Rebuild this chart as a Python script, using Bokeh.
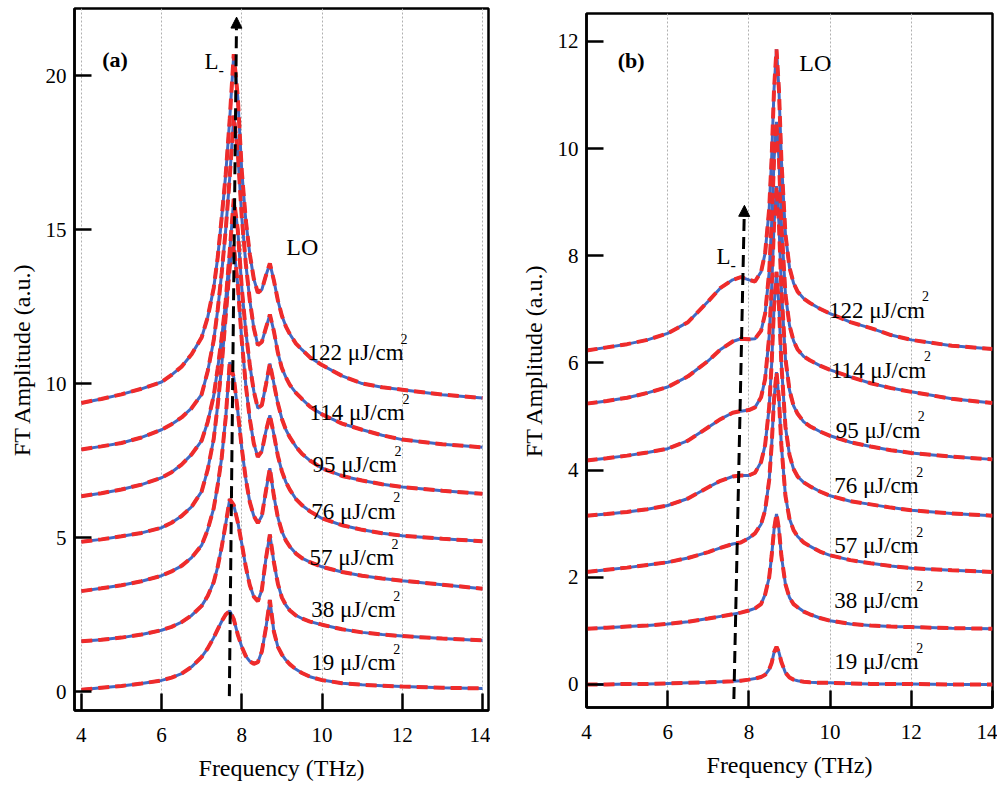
from bokeh.plotting import figure
from bokeh.layouts import row, column, Spacer
from bokeh.models import FixedTicker, Arrow, NormalHead, ColumnDataSource, Range1d
from bokeh.embed import file_html
from bokeh.resources import INLINE
from bokeh.core.properties import value

# ---------------- data: panel (a) ----------------
freq_a = [4.0, 4.5, 5.0, 5.5, 6.0, 6.25, 6.5, 6.75, 7.0, 7.15, 7.3, 7.4, 7.5, 7.6, 7.7, 7.8,
          7.9, 8.0, 8.1, 8.2, 8.3, 8.4, 8.5, 8.6, 8.7, 8.8, 8.9, 9.0, 9.1, 9.2, 9.35, 9.5,
          9.7, 10.0, 10.5, 11.0, 11.5, 12.0, 13.0, 14.0]
a_19 = [0.06, 0.12, 0.18, 0.26, 0.36, 0.45, 0.58, 0.8, 1.12, 1.4, 1.75, 2.02, 2.28, 2.5, 2.62, 2.35,
        1.85, 1.45, 1.15, 0.98, 0.9, 0.95, 1.3, 2.05, 2.97, 1.95, 1.45, 1.2, 1.02, 0.88, 0.72, 0.6,
        0.48, 0.37, 0.27, 0.22, 0.19, 0.16, 0.12, 0.1]
a_38 = [1.63, 1.68, 1.75, 1.85, 1.99, 2.1, 2.25, 2.47, 2.78, 3.1, 3.55, 4.05, 4.7, 5.45, 6.25, 6.05,
        5.5, 4.8, 4.05, 3.45, 3.08, 2.93, 3.3, 4.3, 5.1, 4.2, 3.5, 3.05, 2.8, 2.63, 2.47, 2.37,
        2.27, 2.17, 2.02, 1.92, 1.85, 1.8, 1.72, 1.66]
a_57 = [3.26, 3.35, 3.45, 3.58, 3.76, 3.9, 4.08, 4.35, 4.75, 5.25, 5.95, 6.7, 7.6, 8.9, 10.7, 10.2,
        9.1, 7.9, 6.9, 6.15, 5.7, 5.47, 5.7, 6.5, 7.25, 6.35, 5.65, 5.2, 4.9, 4.7, 4.48, 4.33,
        4.2, 4.05, 3.88, 3.76, 3.67, 3.6, 3.47, 3.34]
a_76 = [4.86, 4.94, 5.04, 5.15, 5.32, 5.48, 5.7, 6.0, 6.5, 7.2, 8.2, 9.3, 10.6, 12.2, 13.8, 14.5,
        13.2, 11.4, 9.95, 8.85, 8.05, 7.62, 7.8, 8.45, 8.97, 8.35, 7.65, 7.15, 6.8, 6.55, 6.25, 6.05,
        5.85, 5.62, 5.4, 5.25, 5.14, 5.06, 4.96, 4.88]
a_95 = [6.34, 6.44, 6.56, 6.72, 6.94, 7.12, 7.37, 7.7, 8.15, 8.75, 9.6, 10.5, 11.5, 12.7, 14.3, 16.0,
        15.0, 13.1, 11.7, 10.6, 9.75, 9.2, 9.3, 9.95, 10.65, 10.0, 9.35, 8.85, 8.5, 8.25, 7.95, 7.72,
        7.5, 7.25, 7.0, 6.85, 6.73, 6.64, 6.52, 6.42]
a_114 = [7.86, 7.96, 8.07, 8.25, 8.5, 8.68, 8.9, 9.2, 9.65, 10.4, 11.4, 12.4, 13.6, 15.0, 16.7, 18.7,
         17.5, 15.4, 13.9, 12.7, 11.8, 11.25, 11.35, 11.8, 12.24, 11.7, 11.0, 10.5, 10.2, 9.95, 9.7, 9.5,
         9.25, 9.0, 8.7, 8.5, 8.32, 8.18, 8.03, 7.93]
a_122 = [9.37, 9.5, 9.65, 9.83, 10.05, 10.28, 10.55, 10.95, 11.5, 12.15, 13.1, 14.1, 15.4, 16.8, 18.6, 20.7,
         19.3, 16.9, 15.3, 14.2, 13.4, 12.95, 13.05, 13.5, 13.9, 13.35, 12.7, 12.2, 11.85, 11.6, 11.3, 11.1,
         10.85, 10.6, 10.25, 10.0, 9.88, 9.8, 9.64, 9.53]

# ---------------- data: panel (b) ----------------
freq_b = [4.0, 4.5, 5.0, 5.5, 6.0, 6.5, 7.0, 7.3, 7.6, 7.8, 8.0, 8.15, 8.3, 8.4, 8.5, 8.56, 8.62,
          8.68, 8.74, 8.8, 8.9, 9.0, 9.1, 9.2, 9.35, 9.5, 9.75, 10.0, 10.5, 11.0, 11.5, 12.0, 13.0, 14.0]
b_19 = [0.0, 0.0, 0.01, 0.01, 0.02, 0.03, 0.04, 0.05, 0.06, 0.07, 0.09, 0.11, 0.14, 0.18, 0.28, 0.4, 0.6,
        0.70, 0.6, 0.42, 0.22, 0.13, 0.09, 0.07, 0.05, 0.04, 0.03, 0.03, 0.02, 0.01, 0.01, 0.01, 0.0, 0.0]
b_38 = [1.04, 1.06, 1.08, 1.1, 1.13, 1.17, 1.23, 1.27, 1.31, 1.34, 1.38, 1.42, 1.5, 1.68, 2.0, 2.4, 2.9,
        3.18, 2.9, 2.4, 1.87, 1.62, 1.5, 1.44, 1.36, 1.31, 1.24, 1.19, 1.13, 1.1, 1.08, 1.07, 1.05, 1.04]
b_57 = [2.1, 2.14, 2.18, 2.23, 2.28, 2.36, 2.47, 2.55, 2.62, 2.65, 2.73, 2.82, 2.99, 3.25, 3.82, 4.46, 5.33,
        5.83, 5.33, 4.46, 3.52, 3.09, 2.88, 2.76, 2.65, 2.58, 2.48, 2.41, 2.32, 2.26, 2.21, 2.17, 2.13, 2.1]
b_76 = [3.15, 3.18, 3.22, 3.27, 3.34, 3.47, 3.68, 3.8, 3.88, 3.9, 3.9, 3.95, 4.15, 4.47, 5.18, 5.98, 7.07,
        7.7, 7.07, 5.98, 4.81, 4.28, 4.02, 3.88, 3.77, 3.7, 3.6, 3.52, 3.42, 3.36, 3.3, 3.25, 3.19, 3.15]
b_95 = [4.18, 4.22, 4.27, 4.33, 4.4, 4.55, 4.8, 4.95, 5.07, 5.1, 5.12, 5.17, 5.36, 5.7, 6.5, 7.39, 8.6,
        9.3, 8.6, 7.38, 6.08, 5.49, 5.2, 5.05, 4.9, 4.82, 4.72, 4.64, 4.52, 4.44, 4.37, 4.32, 4.25, 4.2]
b_114 = [5.24, 5.29, 5.35, 5.44, 5.55, 5.75, 6.04, 6.25, 6.4, 6.45, 6.44, 6.45, 6.6, 6.92, 7.7, 8.6, 9.8,
         10.5, 9.8, 8.6, 7.28, 6.7, 6.41, 6.25, 6.12, 6.05, 5.95, 5.87, 5.74, 5.62, 5.53, 5.46, 5.33, 5.25]
b_122 = [6.23, 6.29, 6.35, 6.43, 6.55, 6.76, 7.15, 7.4, 7.55, 7.6, 7.55, 7.52, 7.7, 8.05, 8.88, 9.82, 11.12,
         11.85, 11.1, 9.79, 8.4, 7.78, 7.49, 7.33, 7.2, 7.12, 7.01, 6.92, 6.76, 6.65, 6.52, 6.43, 6.32, 6.26]

fluences = ["19", "38", "57", "76", "95", "114", "122"]
x_ticks = [4, 6, 8, 10, 12, 14]
y_ticks_a = [0, 5, 10, 15, 20]
y_ticks_b = [0, 2, 4, 6, 8, 10, 12]

# annotation anchors
label_a_x = [9.73, 9.73, 9.69, 9.73, 9.76, 9.69, 9.64]
label_a_y = [0.93, 2.66, 4.35, 5.85, 7.37, 9.06, 11.0]
label_b_x = [10.1, 10.1, 10.1, 10.1, 10.14, 10.02, 9.97]
label_b_y = [0.42, 1.57, 2.59, 3.71, 4.74, 5.86, 6.98]
arrow_a_x = [7.69, 7.87]
arrow_a_y = [-0.15, 21.9]
arrow_b_x = [7.63, 7.89]
arrow_b_y = [-0.27, 8.94]

FONT = "Liberation Serif"
BLUE = "#4169c4"
RED = "#ef2b2b"
SUP_OFF = [82, 82, 82, 82, 82, 93, 93]


def make_panel(xr, yr, yticks, fw, fh, bl, br, bt, bb):
    p = figure(output_backend="svg", toolbar_location=None,
               x_range=Range1d(*xr), y_range=Range1d(*yr),
               frame_width=fw, frame_height=fh,
               min_border_left=bl, min_border_right=br,
               min_border_top=bt, min_border_bottom=bb,
               background_fill_color="white", border_fill_color="white")
    p.outline_line_color = "black"
    p.outline_line_width = 2.5
    p.xaxis.ticker = FixedTicker(ticks=x_ticks)
    p.yaxis.ticker = FixedTicker(ticks=yticks)
    for ax in (p.xaxis[0], p.yaxis[0]):
        ax.major_tick_in = 17
        ax.major_tick_out = 0
        ax.minor_tick_in = 0
        ax.minor_tick_out = 0
        ax.axis_line_width = 2.5
        ax.axis_line_color = "black"
        ax.major_tick_line_width = 2.5
        ax.major_tick_line_color = "black"
        ax.major_label_text_font = FONT
        ax.major_label_text_font_size = "21px"
        ax.major_label_text_color = "black"
        ax.axis_label_text_font = FONT
        ax.axis_label_text_font_size = "24px"
        ax.axis_label_text_font_style = "normal"
        ax.axis_label_text_color = "black"
    p.xaxis.major_label_standoff = 17
    p.yaxis.major_label_standoff = 8
    p.xaxis.axis_label_standoff = 10
    p.yaxis.axis_label_standoff = 8
    p.xaxis.axis_label = "Frequency (THz)"
    p.yaxis.axis_label = "FT Amplitude (a.u.)"
    p.xgrid.ticker = FixedTicker(ticks=x_ticks)
    p.xgrid.grid_line_color = "#b0b0b0"
    p.xgrid.grid_line_dash = "2 2"
    p.xgrid.grid_line_width = 1
    p.ygrid.visible = False
    return p


def add_curves(p, freq, curves):
    for ys in curves:
        p.line(freq, ys, line_color=BLUE, line_width=3)
        p.line(freq, ys, line_color=RED, line_width=4, line_dash="11 6")


def add_labels(p, lx, ly, sup_offsets):
    src = ColumnDataSource(dict(x=lx, y=ly, t=[f + " \u03bcJ/cm" for f in fluences],
                                s=["2"] * len(fluences), off=sup_offsets))
    p.text(x="x", y="y", text="t", source=src, text_font=value(FONT), text_font_size="23px",
           text_baseline="middle", text_align="left", text_color="black")
    p.text(x="x", y="y", text="s", source=src, x_offset="off", y_offset=-14,
           text_font=value(FONT), text_font_size="14px",
           text_baseline="middle", text_align="left", text_color="black")


def add_arrow(p, ax, ay):
    p.add_layout(Arrow(end=NormalHead(size=11, fill_color="black", line_color="black", line_width=1),
                       x_start=ax[0], y_start=ay[0], x_end=ax[1], y_end=ay[1],
                       line_color="black", line_width=3, line_dash="12 6"))


def add_text(p, x, y, t, size="22px", style="normal", xo=0, yo=0):
    p.text(x=[x], y=[y], text=[t], x_offset=xo, y_offset=yo, text_font=value(FONT),
           text_font_size=size, text_font_style=style, text_baseline="middle",
           text_align="left", text_color="black")


# ---------------- panel (a) ----------------
pa = make_panel((3.83, 14.15), (-0.617, 22.18), y_ticks_a, 414, 702, 74, 2, 8, 70)
add_curves(pa, freq_a, [a_19, a_38, a_57, a_76, a_95, a_114, a_122])
add_labels(pa, label_a_x, label_a_y, SUP_OFF)
add_arrow(pa, arrow_a_x, arrow_a_y)
add_text(pa, 4.52, 20.52, "(a)", style="bold")
add_text(pa, 7.07, 20.46, "L", size="23px")
add_text(pa, 7.07, 20.46, "-", size="16px", xo=14, yo=9)
add_text(pa, 9.11, 14.45, "LO", size="24px")

# ---------------- panel (b) ----------------
pb = make_panel((4.0, 14.0), (-0.43, 12.52), y_ticks_b, 406, 694, 96, 5, 8, 70)
add_curves(pb, freq_b, [b_19, b_38, b_57, b_76, b_95, b_114, b_122])
add_labels(pb, label_b_x, label_b_y, SUP_OFF)
add_arrow(pb, arrow_b_x, arrow_b_y)
add_text(pb, 4.77, 11.64, "(b)", style="bold")
add_text(pb, 7.2, 7.98, "L", size="23px")
add_text(pb, 7.2, 7.98, "-", size="16px", xo=14, yo=9)
add_text(pb, 9.24, 11.6, "LO", size="24px")

layout = row(pa, column(Spacer(height=5, width=10), pb))
open("out.html", "w").write(file_html(layout, INLINE))
